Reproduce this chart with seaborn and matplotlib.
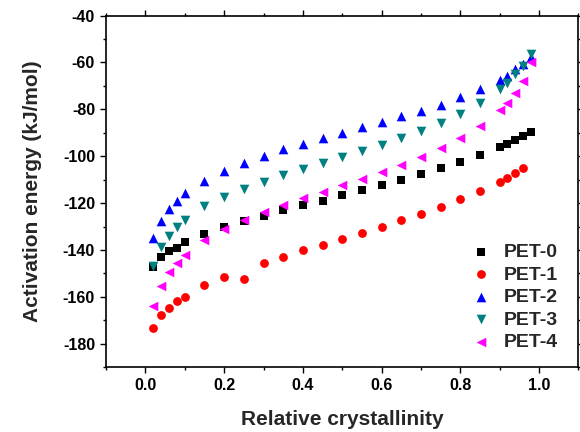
import numpy as np
import pandas as pd
import matplotlib
matplotlib.use("Agg")
import matplotlib.pyplot as plt
from matplotlib.ticker import MultipleLocator
import seaborn as sns

# relative crystallinity points
x_all = [0.02, 0.04, 0.06, 0.08, 0.10, 0.15, 0.20, 0.25, 0.30, 0.35, 0.40, 0.45, 0.50,
         0.55, 0.60, 0.65, 0.70, 0.75, 0.80, 0.85, 0.90, 0.92, 0.94, 0.96, 0.98]
x_pet1 = x_all[:-1]

pet0 = [-147.4, -143.1, -140.6, -139.0, -136.7, -133.3, -130.4, -127.7, -125.4, -123.1,
        -121.0, -118.9, -116.7, -114.4, -112.1, -110.0, -107.4, -105.0, -102.3, -99.3,
        -96.1, -94.6, -93.1, -91.4, -89.6]
pet1 = [-173.1, -167.7, -164.6, -161.9, -159.9, -155.1, -151.4, -152.3, -145.6, -143.1,
        -140.1, -137.7, -135.2, -132.9, -130.1, -127.3, -124.6, -121.7, -118.3, -114.8,
        -111.1, -109.3, -107.1, -105.1]
pet2 = [-135.0, -127.7, -122.6, -119.0, -115.7, -110.4, -106.4, -102.8, -100.0, -97.1,
        -94.7, -92.3, -90.0, -87.7, -85.4, -83.0, -80.6, -78.0, -74.8, -71.4,
        -67.4, -65.7, -62.8, -60.7, -57.8]
pet3 = [-146.9, -138.9, -134.0, -130.4, -127.1, -121.4, -117.3, -114.0, -110.9, -108.2,
        -105.4, -102.8, -100.4, -97.9, -95.3, -92.4, -89.4, -85.9, -82.1, -77.5,
        -71.5, -68.8, -65.0, -61.4, -56.4]
pet4 = [-163.9, -155.4, -149.6, -145.6, -142.3, -135.7, -130.9, -127.3, -123.7, -120.7,
        -117.9, -115.4, -112.4, -109.7, -106.9, -103.9, -100.4, -96.7, -92.4, -87.1,
        -80.4, -77.4, -73.1, -68.1, -60.0]

labels = ["PET-0", "PET-1", "PET-2", "PET-3", "PET-4"]
colors = ["#000000", "#ff0000", "#0000ff", "#008080", "#ff00ff"]
markers = ["s", "o", "^", "v", "<"]
sizes = [30, 40, 48, 48, 48]

frames = []
for lab, xs, ys in zip(labels, [x_all, x_pet1, x_all, x_all, x_all],
                       [pet0, pet1, pet2, pet3, pet4]):
    frames.append(pd.DataFrame({"x": xs, "E": ys, "sample": lab}))
df = pd.concat(frames, ignore_index=True)

sns.set_style("ticks")
plt.rcParams["font.family"] = ["Liberation Sans", "DejaVu Sans"]
plt.rcParams["font.weight"] = "bold"
plt.rcParams["axes.unicode_minus"] = False

fig = plt.figure(figsize=(5.8, 4.32), dpi=100)
ax = fig.add_axes([0.183, 0.150, 0.814, 0.814])

for lab, c, m, s in zip(labels, colors, markers, sizes):
    sns.scatterplot(data=df[df["sample"] == lab], x="x", y="E", color=c, marker=m,
                    s=s, linewidth=0, label=lab, ax=ax)

ax.set_xlim(-0.1, 1.1)
ax.set_ylim(-190, -40)
ax.xaxis.set_major_locator(MultipleLocator(0.2))
ax.xaxis.set_minor_locator(MultipleLocator(0.1))
ax.yaxis.set_major_locator(MultipleLocator(20))
ax.yaxis.set_minor_locator(MultipleLocator(10))
ax.tick_params(which="both", direction="out", top=True, right=True, width=1.0,
               labelsize=11.5, colors="black")
ax.tick_params(which="major", length=4.5)
ax.tick_params(which="minor", length=2.5)
for lbl in ax.get_xticklabels() + ax.get_yticklabels():
    lbl.set_fontweight("bold")
for sp in ax.spines.values():
    sp.set_linewidth(1.2)
    sp.set_color("black")

ax.set_xlabel("Relative crystallinity", fontsize=15, fontweight="bold", labelpad=12)
ax.set_ylabel("Activation energy (kJ/mol)", fontsize=15, fontweight="bold", labelpad=15)

# legend sits bottom right, no frame
ax.legend(loc="lower right", bbox_to_anchor=(0.9735, 0.024), frameon=False,
          prop={"weight": "bold", "size": 14}, handlelength=1.6, handletextpad=0.4,
          labelspacing=0.25, borderaxespad=0)

fig.savefig("out.png", dpi=100)
